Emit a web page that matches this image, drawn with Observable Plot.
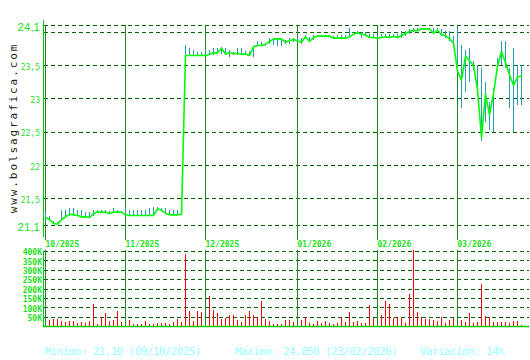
<!DOCTYPE html>
<html>
<head>
<meta charset="utf-8">
<script src="https://cdn.jsdelivr.net/npm/d3@7"></script>
<script src="https://cdn.jsdelivr.net/npm/@observablehq/plot@0.6"></script>
<style>
  html, body { margin: 0; padding: 0; background: #ffffff; }
  #wrap { position: relative; width: 530px; height: 360px; overflow: hidden; background: #ffffff; }
  #wrap svg { position: absolute; left: 0; }
  .foot { position: absolute; top: 346.4px; font-family: "DejaVu Sans Mono", monospace; font-size: 11px; line-height: 11px; letter-spacing: -0.62px; color: #99ffff; white-space: pre; }
  #wm { position: absolute; left: 13px; top: 127.5px; transform: translate(-50%, -50%) rotate(-90deg); font-family: "DejaVu Sans Mono", monospace; font-size: 11px; letter-spacing: 1.9px; color: #222222; white-space: nowrap; }
</style>
</head>
<body>
<div id="wrap"></div>
<script>
// ---- data (one entry per trading session, index 0 = first session of 10/2025) ----
const monthIdx = [0, 20, 40, 63, 83, 103];
const monthLabels = ["10/2025", "11/2025", "12/2025", "01/2026", "02/2026", "03/2026"];

const close = [
  21.22, 21.19, 21.13, 21.12, 21.19, 21.23, 21.27, 21.26, 21.25, 21.23,
  21.23, 21.22, 21.28, 21.30, 21.30, 21.30, 21.28, 21.30, 21.30, 21.30,
  21.26, 21.25, 21.25, 21.25, 21.25, 21.25, 21.25, 21.25, 21.35, 21.33,
  21.28, 21.26, 21.26, 21.26, 21.27, 23.65, 23.65, 23.65, 23.65, 23.65,
  23.65, 23.67, 23.69, 23.69, 23.76, 23.67, 23.70, 23.68, 23.68, 23.67,
  23.67, 23.65, 23.78, 23.80, 23.80, 23.82, 23.86, 23.90, 23.90, 23.90,
  23.85, 23.87, 23.89, 23.87, 23.85, 23.93, 23.86, 23.92, 23.94, 23.94,
  23.94, 23.94, 23.91, 23.91, 23.91, 23.91, 23.93, 23.97, 23.99, 23.97,
  23.96, 23.92, 23.92, 23.91, 23.92, 23.93, 23.92, 23.94, 23.92, 23.95,
  23.98, 24.01, 24.03, 24.02, 24.05, 24.05, 24.05, 23.98, 24.03, 23.96,
  23.95, 23.90, 23.84, 23.42, 23.28, 23.64, 23.57, 23.50, 23.14, 22.42,
  23.07, 22.76, 23.08, 23.49, 23.71, 23.54, 23.36, 23.20, 23.33, 23.34
];
const high = [
  21.30, 21.24, 21.16, 21.15, 21.33, 21.33, 21.36, 21.35, 21.33, 21.32,
  21.30, 21.30, 21.33, 21.33, 21.32, 21.32, 21.31, 21.36, 21.32, 21.31,
  21.36, 21.33, 21.33, 21.33, 21.33, 21.33, 21.36, 21.37, 21.37, 21.35,
  21.36, 21.33, 21.33, 21.33, 21.36, 23.80, 23.75, 23.73, 23.70, 23.70,
  23.72, 23.72, 23.75, 23.75, 23.77, 23.75, 23.72, 23.70, 23.75, 23.75,
  23.71, 23.71, 23.78, 23.86, 23.85, 23.82, 23.90, 23.90, 23.90, 23.90,
  23.87, 23.90, 23.90, 23.90, 23.90, 23.95, 23.92, 23.95, 23.95, 23.95,
  23.95, 23.95, 23.93, 23.95, 23.95, 23.95, 24.05, 24.00, 24.01, 24.00,
  23.99, 23.97, 23.96, 23.95, 23.96, 23.96, 23.96, 23.96, 23.96, 24.01,
  24.01, 24.04, 24.05, 24.05, 24.05, 24.05, 24.05, 24.05, 24.05, 24.04,
  24.01, 24.01, 23.93, 24.05, 23.80, 23.72, 23.76, 23.56, 23.50, 23.45,
  23.25, 22.95, 23.15, 23.61, 23.86, 23.86, 23.45, 23.76, 23.50, 23.50
];
const low = [
  21.18, 21.16, 21.12, 21.10, 21.17, 21.21, 21.24, 21.23, 21.23, 21.21,
  21.21, 21.21, 21.24, 21.29, 21.29, 21.29, 21.27, 21.29, 21.29, 21.29,
  21.25, 21.24, 21.24, 21.24, 21.24, 21.24, 21.24, 21.24, 21.31, 21.31,
  21.27, 21.25, 21.25, 21.25, 21.26, 23.60, 23.65, 23.63, 23.65, 23.65,
  23.64, 23.65, 23.65, 23.67, 23.66, 23.65, 23.62, 23.65, 23.65, 23.65,
  23.65, 23.63, 23.62, 23.78, 23.78, 23.78, 23.82, 23.80, 23.78, 23.78,
  23.82, 23.82, 23.85, 23.84, 23.82, 23.90, 23.85, 23.87, 23.92, 23.92,
  23.92, 23.92, 23.90, 23.90, 23.90, 23.90, 23.92, 23.95, 23.96, 23.91,
  23.93, 23.91, 23.91, 23.90, 23.91, 23.91, 23.91, 23.92, 23.91, 23.91,
  23.93, 23.96, 24.00, 24.01, 24.04, 24.04, 24.04, 23.98, 24.01, 23.93,
  23.91, 23.86, 23.81, 23.38, 22.85, 23.10, 23.25, 23.42, 23.10, 22.36,
  22.65, 22.52, 22.50, 23.43, 23.50, 23.45, 22.85, 22.50, 22.90, 22.90
];
// volume in thousands of shares
const volume = [
  44, 34, 39, 39, 28, 23, 28, 28, 18, 23, 18, 28, 119, 12, 44, 71, 28, 34, 82, 23,
  16, 34, 12, 12, 12, 28, 12, 12, 18, 18, 18, 12, 23, 39, 23, 386, 82, 28, 82, 76,
  60, 162, 87, 71, 39, 44, 60, 60, 34, 23, 60, 82, 60, 50, 135, 39, 28, 12, 12, 12, 34, 34, 23,
  23, 34, 50, 18, 12, 28, 18, 28, 18, 12, 18, 50, 23, 76, 23, 28, 18, 18, 114, 44,
  60, 60, 135, 119, 44, 50, 44, 18, 172, 407, 76, 50, 39, 39, 34, 28, 50, 18, 34, 44,
  34, 34, 23, 71, 18, 23, 226, 55, 50, 23, 23, 23, 23, 18, 28, 28, 7
];

const priceGrid = [21.1, 21.5, 22, 22.5, 23, 23.5, 24, 24.1];
const priceTicks = [21.5, 22, 22.5, 23, 23.5];
const priceTickLabels = ["21,5", "22", "22,5", "23", "23,5"];
const priceBounds = [21.1, 24.1];
const priceBoundLabels = ["21,1", "24,1"];
const volTicks = [50, 100, 150, 200, 250, 300, 350, 400];
const volTickLabels = ["50K", "100K", "150K", "200K", "250K", "300K", "350K", "400K"];

const footMin = "Minimo: 21,10 (09/10/2025)";
const footMax = "Maximo: 24,050 (23/02/2026)";
const footVar = "Variación: 14%";
const watermark = "www.bolsagrafica.com";

// ---- styles ----
const gridColor = "#006400";
const monthColor = "#1f8a1f";
const axisColor = "#00cc00";
const labelColor = "#22e022";
const mono = "DejaVu Sans Mono";
const crisp = "crispEdges";

const data = close.map((c, i) => ({i, close: c, high: high[i], low: low[i], vol: volume[i]}));

const price = Plot.plot({
  width: 530, height: 250,
  marginLeft: 45, marginRight: 1, marginTop: 25, marginBottom: 25,
  style: {background: "transparent", overflow: "visible"},
  x: {domain: [0, 121], axis: null},
  y: {domain: [21.1, 24.1], axis: null},
  marks: [
    Plot.ruleY(priceGrid, {stroke: gridColor, strokeDasharray: "4,3", insetLeft: -1, shapeRendering: crisp}),
    Plot.ruleX(monthIdx, {stroke: monthColor, insetBottom: -15, shapeRendering: crisp}),
    Plot.ruleX([0], {stroke: axisColor, dx: -2, insetTop: -5, insetBottom: -12, shapeRendering: crisp}),
    Plot.ruleX(data, {x: "i", y1: "low", y2: "high", stroke: "#22a0b0", shapeRendering: crisp}),
    Plot.line(data, {x: "i", y: "close", stroke: "#00ff00", strokeWidth: 1.6}),
    Plot.text(priceTicks, {y: d => d, text: (d, k) => priceTickLabels[k], frameAnchor: "left", textAnchor: "end", dx: -5.5, dy: 1.5, fill: labelColor, fontFamily: mono, fontSize: 8}),
    Plot.text(priceBounds, {y: d => d, text: (d, k) => priceBoundLabels[k], frameAnchor: "left", textAnchor: "end", dx: -5.5, dy: 2, fill: labelColor, fontFamily: "Liberation Sans", fontSize: 11.5}),
    Plot.text(monthIdx, {x: d => d, text: (d, k) => monthLabels[k], frameAnchor: "bottom", textAnchor: "start", lineAnchor: "middle", dy: 19, fill: labelColor, fontFamily: mono, fontSize: 8, fontWeight: "bold"})
  ]
});
price.style.top = "0px";

const vol = Plot.plot({
  width: 530, height: 84,
  marginLeft: 45, marginRight: 1, marginTop: 5, marginBottom: 4,
  style: {background: "transparent", overflow: "visible"},
  x: {domain: [0, 121], axis: null},
  y: {domain: [0, 400], axis: null},
  marks: [
    Plot.ruleY(volTicks, {stroke: gridColor, strokeDasharray: "4,3", insetLeft: -1, shapeRendering: crisp}),
    Plot.ruleX(data, {x: "i", y1: 0, y2: "vol", stroke: "#ff0000", shapeRendering: crisp}),
    Plot.ruleX(monthIdx, {stroke: monthColor, insetTop: -1, shapeRendering: crisp}),
    Plot.ruleX([0], {stroke: axisColor, dx: -2, shapeRendering: crisp}),
    Plot.ruleY([0], {stroke: axisColor, strokeWidth: 1.5, insetLeft: -2}),
    Plot.text(volTicks, {y: d => d, text: (d, k) => volTickLabels[k], frameAnchor: "left", textAnchor: "end", dx: -3.5, dy: 1.2, fill: labelColor, fontFamily: mono, fontSize: 8, fontWeight: "bold"})
  ]
});
vol.style.top = "246px";

const wrap = document.getElementById("wrap");
wrap.appendChild(price);
wrap.appendChild(vol);

const wm = document.createElement("div");
wm.id = "wm";
wm.textContent = watermark;
wrap.appendChild(wm);

[[footMin, 44.7], [footMax, 235], [footVar, 420]].forEach(([t, x]) => {
  const s = document.createElement("div");
  s.className = "foot";
  s.style.left = x + "px";
  s.textContent = t;
  wrap.appendChild(s);
});
</script>
</body>
</html>
